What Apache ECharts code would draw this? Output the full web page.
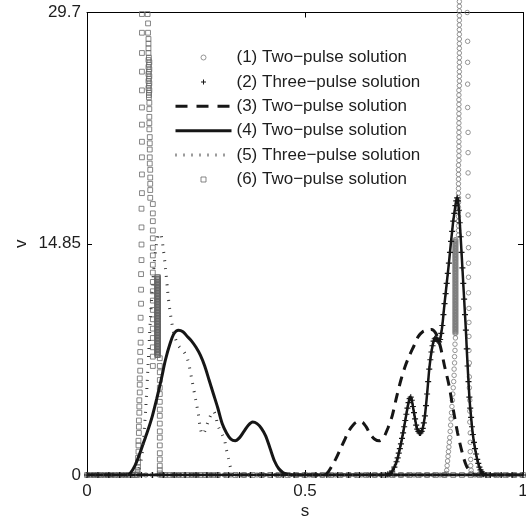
<!DOCTYPE html>
<html>
<head>
<meta charset="utf-8">
<script src="https://cdn.jsdelivr.net/npm/echarts@6/dist/echarts.min.js"></script>
<style>
  html, body { margin: 0; padding: 0; background: #fff; }
  #chart { width: 526px; height: 521px; }
</style>
</head>
<body>
<div id="chart"></div>
<script>
// Axis ticks
const xTicks = [0, 0.5, 1];
const yTicks = [0, 14.85, 29.7];

// Series names
const names = [
  '(1) Two\u2212pulse solution',
  '(2) Three\u2212pulse solution',
  '(3) Two\u2212pulse solution',
  '(4) Two\u2212pulse solution',
  '(5) Three\u2212pulse solution',
  '(6) Two\u2212pulse solution'
];

// (1) Two-pulse solution, circle markers: [s, v]
const circlesBaseLeft = [[0,0],[0.015,0],[0.03,0],[0.045,0],[0.06,0],[0.075,0],[0.09,0],[0.105,0],[0.12,0],[0.135,0],[0.15,0],[0.165,0],[0.18,0],[0.195,0],[0.21,0],[0.225,0],[0.24,0],[0.255,0],[0.27,0],[0.285,0],[0.3,0],[0.315,0],[0.33,0],[0.345,0],[0.36,0],[0.375,0],[0.39,0],[0.405,0],[0.42,0],[0.435,0],[0.45,0],[0.465,0],[0.48,0],[0.495,0],[0.51,0],[0.525,0],[0.54,0],[0.555,0],[0.57,0],[0.585,0],[0.6,0],[0.615,0],[0.63,0],[0.645,0],[0.66,0],[0.675,0],[0.69,0],[0.705,0],[0.72,0],[0.735,0],[0.75,0],[0.765,0],[0.78,0],[0.795,0],[0.81,0],[0.82,0]];
const circlesRise = [[0.824,0.1],[0.825,0.3],[0.826,0.6],[0.827,0.9],[0.828,1.2],[0.829,1.5],[0.83,1.8],[0.831,2.1],[0.832,2.4],[0.833,2.8],[0.834,3.2],[0.835,3.6],[0.836,4.0],[0.837,4.4],[0.838,4.8],[0.839,5.2],[0.84,5.6],[0.841,6.0],[0.842,6.4],[0.842,6.8],[0.843,7.2],[0.843,7.6],[0.844,8.0],[0.844,8.4],[0.845,8.8]];
// tightly packed circles, two touching columns
const circlesBandS = [0.844, 0.846];
const circlesBandV = [9.1,9.2,9.3,9.4,9.5,9.6,9.7,9.8,9.9,10.0,10.1,10.2,10.3,10.4,10.5,10.6,10.7,10.8,10.9,11.0,11.1,11.2,11.3,11.4,11.5,11.6,11.7,11.8,11.9,12.0,12.1,12.2,12.3,12.4,12.5,12.6,12.7,12.8,12.9,13.0,13.1,13.2,13.3,13.4,13.5,13.6,13.7,13.8,13.9,14.0,14.1,14.2,14.3,14.4,14.5,14.6,14.7,14.8,14.9,15.0,15.1];
const circlesUpper = [[0.852,15.4],[0.852,15.7],[0.852,16.0],[0.852,16.3],[0.852,16.6],[0.852,16.9],[0.852,17.2],[0.852,17.5],[0.852,17.8],[0.852,18.1],[0.852,18.4],[0.852,18.7],[0.852,19.0],[0.852,19.3],[0.852,19.6],[0.852,19.9],[0.853,20.2],[0.853,20.5],[0.853,20.8],[0.853,21.1],[0.853,21.4],[0.853,21.7],[0.853,22.0],[0.853,22.3],[0.853,22.6],[0.853,22.9],[0.853,23.2],[0.853,23.5],[0.853,23.8],[0.853,24.1],[0.853,24.4],[0.853,24.7],[0.854,25.0],[0.854,25.3],[0.854,25.6],[0.854,25.9],[0.854,26.2],[0.854,26.5],[0.854,26.8],[0.854,27.1],[0.854,27.4],[0.854,27.7],[0.854,28.0],[0.854,28.3],[0.854,28.6],[0.854,28.9],[0.854,29.2],[0.854,29.5],[0.854,29.8],[0.854,30.1],[0.854,30.4]];
const circlesFall = [[0.872,29.7],[0.873,27.85],[0.873,26.5],[0.873,25.1],[0.873,23.6],[0.874,22.0],[0.874,20.7],[0.874,19.4],[0.874,17.9],[0.874,16.7],[0.875,15.5],[0.875,14.6],[0.875,13.6],[0.875,12.7],[0.875,11.7],[0.876,10.7],[0.876,9.8],[0.876,8.9],[0.876,8.0],[0.877,7.2],[0.877,6.3],[0.877,5.6],[0.878,4.8],[0.878,4.1],[0.878,3.4],[0.879,2.7],[0.879,2.1],[0.879,1.5],[0.88,1.0],[0.88,0.6],[0.881,0.3],[0.882,0.1]];
const circlesBaseRight = [[0.89,0],[0.905,0],[0.92,0],[0.935,0],[0.95,0],[0.965,0],[0.98,0],[0.995,0]];

// (2) Three-pulse solution, plus markers: [s, v]
const plusBaseLeft = [[0,0],[0.025,0],[0.05,0],[0.075,0],[0.1,0],[0.125,0],[0.15,0],[0.175,0],[0.2,0],[0.225,0],[0.25,0],[0.275,0],[0.3,0],[0.325,0],[0.35,0],[0.375,0],[0.4,0],[0.425,0],[0.45,0],[0.475,0],[0.5,0],[0.525,0],[0.55,0],[0.575,0],[0.6,0],[0.625,0],[0.65,0],[0.675,0]];
const plusPulse = [[0.685,0],[0.69,0.05],[0.695,0.1],[0.70,0.25],[0.705,0.5],[0.71,0.85],[0.7125,1.1],[0.715,1.4],[0.7175,1.7],[0.72,2.0],[0.7225,2.35],[0.725,2.7],[0.7275,3.1],[0.73,3.5],[0.7325,3.9],[0.735,4.3],[0.7375,4.65],[0.74,4.9],[0.7425,5.0],[0.745,4.8],[0.7475,4.4],[0.75,4.0],[0.7525,3.6],[0.755,3.2],[0.7575,2.95],[0.76,2.8],[0.7625,2.7],[0.765,2.7],[0.7675,2.8],[0.77,3.0],[0.7725,3.35],[0.775,3.8],[0.7775,4.45],[0.78,5.2],[0.7825,6.0],[0.785,6.8],[0.7875,7.4],[0.79,7.9],[0.7925,8.3],[0.795,8.6],[0.7975,8.75],[0.80,8.8],[0.8025,8.75],[0.805,8.6],[0.8075,8.55],[0.81,8.7],[0.8125,9.1],[0.815,9.6],[0.8175,10.3],[0.82,11.0],[0.8225,11.65],[0.825,12.3],[0.8275,12.95],[0.83,13.6],[0.8325,14.3],[0.835,15.0],[0.8375,15.65],[0.84,16.3],[0.8425,16.8],[0.845,17.3],[0.847,17.6],[0.849,17.8],[0.851,17.6],[0.853,17.0],[0.855,16.2],[0.857,15.3],[0.859,14.3],[0.861,13.3],[0.863,12.3],[0.865,11.3],[0.867,10.3],[0.869,9.3],[0.871,8.1],[0.873,7.0],[0.875,6.0],[0.877,5.0],[0.879,4.3],[0.881,3.7],[0.883,3.1],[0.885,2.6],[0.8875,2.1],[0.89,1.7],[0.8925,1.35],[0.895,1.0],[0.8975,0.75],[0.90,0.5],[0.9025,0.33],[0.905,0.2],[0.9075,0.1],[0.91,0.05],[0.915,0]];
const plusBaseRight = [[0.925,0],[0.95,0],[0.975,0],[1,0]];

// (3) Two-pulse solution, dashed line: [s, v]
const dashedLine = [[0,0],[0.54,0],[0.55,0.1],[0.56,0.5],[0.57,1.0],[0.58,1.6],[0.59,2.2],[0.60,2.8],[0.61,3.2],[0.62,3.4],[0.63,3.4],[0.64,3.1],[0.65,2.6],[0.66,2.3],[0.67,2.2],[0.68,2.4],[0.69,3.0],[0.70,3.8],[0.71,5.0],[0.72,6.1],[0.73,7.0],[0.74,7.7],[0.75,8.3],[0.76,8.9],[0.77,9.2],[0.78,9.3],[0.79,9.35],[0.80,9.1],[0.81,8.3],[0.82,7.0],[0.83,5.8],[0.84,4.2],[0.85,2.7],[0.86,1.5],[0.87,0.6],[0.88,0.2],[0.89,0],[1,0]];

// (4) Two-pulse solution, solid line: [s, v]
const solidLine = [[0,0],[0.09,0],[0.10,0.15],[0.11,0.6],[0.12,1.3],[0.13,2.1],[0.14,2.9],[0.15,3.8],[0.16,4.9],[0.17,6.1],[0.18,7.4],[0.19,8.4],[0.20,9.1],[0.21,9.3],[0.22,9.2],[0.23,8.9],[0.24,8.6],[0.25,8.2],[0.26,7.7],[0.27,7.0],[0.28,6.1],[0.29,5.2],[0.30,4.3],[0.31,3.3],[0.32,2.7],[0.33,2.3],[0.34,2.2],[0.35,2.4],[0.36,2.8],[0.37,3.2],[0.38,3.4],[0.39,3.3],[0.40,3.0],[0.41,2.5],[0.42,1.7],[0.43,0.9],[0.44,0.4],[0.45,0.15],[0.46,0.05],[0.47,0],[1,0]];

// (5) Three-pulse solution, dotted line: [s, v]
const dottedLine = [[0,0],[0.11,0],[0.12,0.5],[0.125,1.1],[0.13,2.4],[0.135,4.4],[0.14,7.0],[0.145,9.8],[0.15,12.0],[0.155,13.8],[0.16,14.9],[0.165,15.5],[0.17,15.4],[0.175,14.5],[0.18,13.3],[0.185,11.8],[0.19,10.6],[0.195,9.7],[0.20,9.0],[0.21,8.3],[0.22,8.0],[0.23,7.5],[0.24,6.2],[0.25,4.7],[0.255,4.0],[0.26,3.0],[0.265,2.6],[0.27,2.8],[0.28,3.6],[0.29,4.1],[0.295,3.8],[0.30,3.2],[0.31,2.6],[0.315,2.3],[0.32,1.6],[0.325,1.0],[0.33,0.4],[0.335,0.1],[0.34,0],[1,0]];

// (6) Two-pulse solution, square markers: [s, v]
const squaresBaseLeft = [[0,0],[0.008,0],[0.016,0],[0.024,0],[0.032,0],[0.04,0],[0.048,0],[0.056,0],[0.064,0],[0.072,0],[0.08,0],[0.088,0],[0.096,0],[0.104,0],[0.11,0],[0.114,0]];
const squaresRise = [[0.116,0.1],[0.116,0.3],[0.117,0.5],[0.117,0.8],[0.117,1.1],[0.118,1.5],[0.118,1.9],[0.118,2.2],[0.119,2.7],[0.119,3.1],[0.119,3.5],[0.12,4.0],[0.12,4.4],[0.12,4.8],[0.121,5.3],[0.121,5.8],[0.121,6.2],[0.122,6.7],[0.122,7.3],[0.122,7.9],[0.123,8.5],[0.123,9.3],[0.123,10.1],[0.124,11.0],[0.124,11.9],[0.124,12.9],[0.125,13.8],[0.125,14.8],[0.125,15.9],[0.125,17.1],[0.126,18.1],[0.126,19.3],[0.126,20.4],[0.126,21.4],[0.126,22.5],[0.126,23.6],[0.126,24.7],[0.126,25.9],[0.126,27.1],[0.126,28.4],[0.126,29.6]];
const squaresFall = [[0.139,29.6],[0.14,29.0],[0.14,28.4],[0.141,28.0],[0.141,27.7],[0.141,27.4],[0.141,27.1],[0.142,26.8],[0.141,26.65],[0.143,26.5],[0.142,26.35],[0.141,26.2],[0.143,26.05],[0.142,25.9],[0.141,25.75],[0.143,25.6],[0.142,25.45],[0.141,25.3],[0.143,25.15],[0.142,25.0],[0.141,24.85],[0.143,24.7],[0.142,24.55],[0.142,24.4],[0.142,24.25],[0.143,23.9],[0.143,23.5],[0.143,23.0],[0.143,22.6],[0.143,22.2],[0.144,21.7],[0.144,21.3],[0.144,20.9],[0.144,20.4],[0.144,20.0],[0.145,19.6],[0.145,19.1],[0.145,18.7],[0.145,18.3],[0.145,17.8],[0.151,17.4],[0.151,16.8],[0.151,16.3],[0.151,15.7],[0.151,15.2],[0.151,14.6],[0.151,14.1],[0.151,13.5],[0.151,13.0],[0.151,12.4],[0.151,11.8],[0.151,11.2],[0.151,10.6],[0.151,10.0],[0.151,9.4],[0.151,8.8],[0.151,8.2],[0.151,7.6],[0.151,7.0]];
// tightly packed squares, two touching columns
const squaresBandS = [0.161, 0.163];
const squaresBandV = [12.7,12.6,12.5,12.4,12.3,12.2,12.1,12.0,11.9,11.8,11.7,11.6,11.5,11.4,11.3,11.2,11.1,11.0,10.9,10.8,10.7,10.6,10.5,10.4,10.3,10.2,10.1,10.0,9.9,9.8,9.7,9.6,9.5,9.4,9.3,9.2,9.1,9.0,8.9,8.8,8.7,8.6,8.5,8.4,8.3,8.2,8.1,8.0,7.9,7.8,7.7];
const squaresTail = [[0.167,7.5],[0.167,7.0],[0.167,6.6],[0.167,6.1],[0.167,5.6],[0.167,5.2],[0.167,4.7],[0.167,4.2],[0.167,3.8],[0.167,3.3],[0.167,2.8],[0.167,2.4],[0.167,1.9],[0.167,1.4],[0.167,1.0],[0.167,0.6],[0.167,0.3],[0.167,0.1]];
const squaresBaseRight = [[0.172,0],[0.18,0],[0.19,0],[0.2,0],[0.21,0],[0.22,0],[0.23,0],[0.24,0],[0.25,0],[0.26,0],[0.27,0],[0.28,0],[0.29,0],[0.3,0],[0.32,0],[0.34,0],[0.36,0],[0.38,0],[0.4,0],[0.42,0],[0.44,0],[0.46,0],[0.48,0],[0.5,0],[0.52,0],[0.54,0],[0.56,0],[0.58,0],[0.6,0],[0.62,0],[0.64,0],[0.66,0],[0.68,0],[0.7,0],[0.72,0],[0.74,0],[0.76,0],[0.78,0],[0.8,0],[0.82,0],[0.84,0],[0.86,0],[0.88,0],[0.9,0],[0.92,0],[0.94,0],[0.96,0],[0.98,0],[1,0]];

const FONT = "'Liberation Sans', Arial, Helvetica, sans-serif";
const TEXT = '#1e1e1e';
const CIRCLE_GRAY = '#7c7c7c';
const SQUARE_GRAY = '#666666';
const INK = '#161616';
const DOT_INK = '#3a3a3a';
const PLUS_PATH = 'path://M2,0H3V2H5V3H3V5H2V3H0V2H2Z';
const SQUARE_PATH = 'path://M0,0H5V5H0Z';

// pair every packed value with each of its columns
function packed(columns, values) {
  const out = [];
  values.forEach(v => columns.forEach(s => out.push([s, v])));
  return out;
}
const circlesBand = packed(circlesBandS, circlesBandV);
const squaresBand = packed(squaresBandS, squaresBandV);

const chart = echarts.init(document.getElementById('chart'), null, { renderer: 'canvas' });

const frameLine = { show: true, onZero: false, lineStyle: { color: '#000', width: 1 } };
const frameTick = { show: true, inside: true, length: 5, lineStyle: { color: '#000', width: 1 } };

const xBase = {
  type: 'value',
  min: xTicks[0],
  max: xTicks[xTicks.length - 1],
  interval: xTicks[1] - xTicks[0],
  splitLine: { show: false },
  axisLine: frameLine,
  axisTick: frameTick
};
const yBase = {
  type: 'value',
  min: yTicks[0],
  max: yTicks[yTicks.length - 1],
  interval: yTicks[1] - yTicks[0],
  splitLine: { show: false },
  axisLine: frameLine,
  axisTick: frameTick
};

// legend entries drawn as plain lines: hide the marker that sits on the line sample
const noMarker = { color: 'transparent', borderWidth: 0, opacity: 0 };

const option = {
  animation: false,
  backgroundColor: '#fff',
  textStyle: { fontFamily: FONT },
  grid: { left: 87, right: 3, top: 12.5, bottom: 46, containLabel: false, outerBoundsMode: 'none' },
  legend: {
    orient: 'vertical',
    left: 174,
    top: 49,
    padding: 0,
    itemWidth: 56,
    itemHeight: 5,
    itemGap: 7.4,
    selectedMode: false,
    textStyle: { fontSize: 17, lineHeight: 17, color: TEXT, fontFamily: FONT },
    data: [
      { name: names[0], icon: 'circle', itemStyle: { color: 'transparent', borderColor: CIRCLE_GRAY, borderWidth: 1 } },
      { name: names[1], icon: PLUS_PATH, itemStyle: { color: INK, borderWidth: 0 } },
      { name: names[2], itemStyle: noMarker, lineStyle: { width: 3, type: [12, 9], color: INK } },
      { name: names[3], itemStyle: noMarker, lineStyle: { width: 3, color: INK } },
      { name: names[4], itemStyle: noMarker, lineStyle: { width: 3, type: [1, 7], color: DOT_INK } },
      { name: names[5], icon: SQUARE_PATH, itemStyle: { color: 'transparent', borderColor: SQUARE_GRAY, borderWidth: 1 } }
    ]
  },
  xAxis: [
    Object.assign({}, xBase, {
      position: 'bottom',
      name: 's',
      nameLocation: 'middle',
      nameGap: 28,
      nameMoveOverlap: false,
      nameTextStyle: { fontSize: 17, color: TEXT, fontFamily: FONT },
      axisLabel: { show: true, fontSize: 17, color: TEXT, margin: 8, fontFamily: FONT }
    }),
    Object.assign({}, xBase, {
      position: 'top',
      axisLabel: { show: false }
    })
  ],
  yAxis: [
    Object.assign({}, yBase, {
      position: 'left',
      name: 'v',
      nameLocation: 'middle',
      nameRotate: 90,
      nameGap: 57,
      nameMoveOverlap: false,
      nameTextStyle: { fontSize: 17, color: TEXT, fontFamily: FONT },
      axisLabel: { show: true, fontSize: 17, color: TEXT, margin: 6, fontFamily: FONT }
    }),
    Object.assign({}, yBase, {
      position: 'right',
      axisLabel: { show: false }
    })
  ],
  series: [
    {
      name: names[0],
      type: 'scatter',
      xAxisIndex: 0, yAxisIndex: 0,
      clip: false,
      silent: true,
      symbol: 'circle',
      symbolSize: 4.5,
      itemStyle: { color: 'transparent', borderColor: CIRCLE_GRAY, borderWidth: 1 },
      emphasis: { disabled: true },
      data: [].concat(circlesBaseLeft, circlesRise, circlesBand, circlesUpper, circlesFall, circlesBaseRight)
    },
    {
      name: names[1],
      type: 'line',
      xAxisIndex: 0, yAxisIndex: 0,
      silent: true,
      smooth: 0.3,
      symbol: PLUS_PATH,
      symbolSize: 6,
      showSymbol: true,
      itemStyle: { color: INK },
      lineStyle: { color: INK, width: 2.5 },
      emphasis: { disabled: true },
      data: [].concat(plusBaseLeft, plusPulse, plusBaseRight)
    },
    {
      name: names[2],
      type: 'line',
      xAxisIndex: 0, yAxisIndex: 0,
      silent: true,
      smooth: 0.3,
      symbol: 'none',
      itemStyle: { color: INK },
      lineStyle: { color: INK, width: 3, type: [10, 7], cap: 'butt' },
      emphasis: { disabled: true },
      data: dashedLine
    },
    {
      name: names[3],
      type: 'line',
      xAxisIndex: 0, yAxisIndex: 0,
      silent: true,
      smooth: 0.3,
      symbol: 'none',
      itemStyle: { color: INK },
      lineStyle: { color: INK, width: 3 },
      emphasis: { disabled: true },
      data: solidLine
    },
    {
      name: names[4],
      type: 'line',
      xAxisIndex: 0, yAxisIndex: 0,
      silent: true,
      smooth: 0.3,
      symbol: 'none',
      itemStyle: { color: DOT_INK },
      lineStyle: { color: DOT_INK, width: 3, type: [1, 7], cap: 'butt' },
      emphasis: { disabled: true },
      data: dottedLine
    },
    {
      name: names[5],
      type: 'scatter',
      xAxisIndex: 0, yAxisIndex: 0,
      clip: false,
      silent: true,
      symbol: 'rect',
      symbolSize: 4.8,
      itemStyle: { color: 'transparent', borderColor: SQUARE_GRAY, borderWidth: 1 },
      emphasis: { disabled: true },
      data: [].concat(squaresBaseLeft, squaresRise, squaresFall, squaresBand, squaresTail, squaresBaseRight)
    }
  ]
};

chart.setOption(option);
</script>
</body>
</html>
